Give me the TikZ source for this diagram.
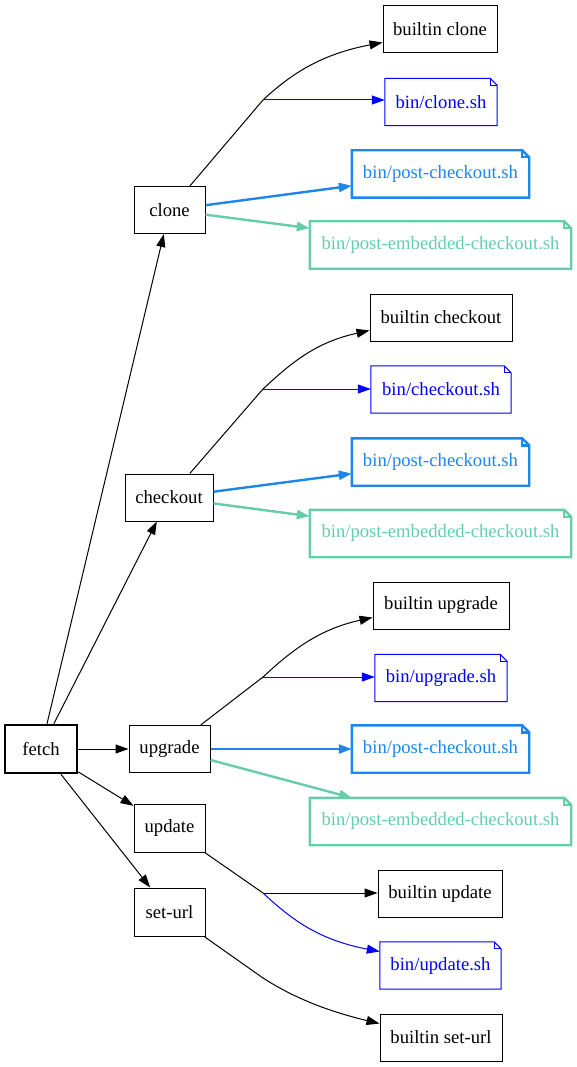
\documentclass[tikz,border=0pt]{standalone}
\usepackage{fontspec}
\setmainfont{Liberation Serif}
\usetikzlibrary{arrows.meta,calc}
\definecolor{cblue}{HTML}{0000FF}
\definecolor{cdodger}{HTML}{1C86EE}
\definecolor{caqua}{HTML}{66CDAA}
\tikzset{
  base/.style={rectangle, inner sep=0pt, font=\fontsize{18.67}{20}\selectfont},
  box/.style={base, draw, line width=1pt, minimum height=47pt},
  rootbox/.style={box, line width=2.6pt},
  notebox/.style={base, minimum height=47pt, text=#1},
  thin/.style={line width=1pt},
  thick2/.style={line width=2.4pt},
  tip/.style={-{Triangle[length=13pt,width=9pt]}},
  edge/.style={thin, tip},
  plain/.style={thin},
}
\newcommand\notefold[2]{%
  \draw[#2, line join=miter] (#1.south west) -- (#1.north west) -- ([xshift=-7pt]#1.north east)
     -- ([yshift=-7pt]#1.north east) -- (#1.south east) -- cycle;
  \draw[#2] ([xshift=-7pt]#1.north east) |- ([yshift=-7pt]#1.north east);}
\begin{document}
\begin{tikzpicture}[x=1pt,y=-1pt]
\useasboundingbox (0,0) rectangle (576,1067);
% left column
\node[rootbox, minimum width=72pt, minimum height=48pt] (fetch) at (41,749) {fetch};
\node[box, minimum width=71pt] (clone) at (169.5,210) {clone};
\node[box, minimum width=88pt] (checkout) at (169,497.5) {checkout};
\node[box, minimum width=81pt] (upgrade) at (169.5,749) {upgrade};
\node[box, minimum width=71pt, minimum height=48pt] (update) at (169.5,828) {update};
\node[box, minimum width=71pt, minimum height=48pt] (seturl) at (169.5,912) {set-url};
% junctions
\coordinate (jc) at (263,100);
\coordinate (jco) at (263,389);
\coordinate (ju) at (263,677);
\coordinate (jup) at (263,893);
\coordinate (js) at (263,978);
% right column
\node[box, minimum width=114pt] (bc) at (440,29.5) {builtin clone};
\node[notebox=cblue, minimum width=112pt] (bcs) at (441,102) {bin/clone.sh};
\node[notebox=cdodger, minimum width=177pt] (pc1) at (440.5,174) {bin/post-checkout.sh};
\node[notebox=caqua, minimum width=261pt] (pe1) at (440.5,245) {bin/post-embedded-checkout.sh};
\node[box, minimum width=142pt] (bco) at (441,317.5) {builtin checkout};
\node[notebox=cblue, minimum width=140pt] (bcos) at (441,389.5) {bin/checkout.sh};
\node[notebox=cdodger, minimum width=177pt] (pc2) at (440.5,462) {bin/post-checkout.sh};
\node[notebox=caqua, minimum width=261pt] (pe2) at (440.5,533.5) {bin/post-embedded-checkout.sh};
\node[box, minimum width=136pt] (bu) at (441,605.5) {builtin upgrade};
\node[notebox=cblue, minimum width=132pt] (bus) at (441,678) {bin/upgrade.sh};
\node[notebox=cdodger, minimum width=177pt] (pc3) at (440.5,749) {bin/post-checkout.sh};
\node[notebox=caqua, minimum width=261pt] (pe3) at (440.5,821.5) {bin/post-embedded-checkout.sh};
\node[box, minimum width=124pt] (bup) at (440,893.5) {builtin update};
\node[notebox=cblue, minimum width=121pt] (bups) at (440.5,965.5) {bin/update.sh};
\node[box, minimum width=122pt] (bsu) at (441,1037.5) {builtin set-url};
% note outlines
\notefold{bcs}{cblue, thin}
\notefold{pc1}{cdodger, thick2}
\notefold{pe1}{caqua, thick2}
\notefold{bcos}{cblue, thin}
\notefold{pc2}{cdodger, thick2}
\notefold{pe2}{caqua, thick2}
\notefold{bus}{cblue, thin}
\notefold{pc3}{cdodger, thick2}
\notefold{pe3}{caqua, thick2}
\notefold{bups}{cblue, thin}
% fetch edges
\draw[edge] (fetch) -- (clone);
\draw[edge] (fetch) -- (checkout);
\draw[edge] (fetch) -- (upgrade);
\draw[edge] (fetch) -- (update);
\draw[edge] (fetch) -- (seturl);
% clone
\draw[plain] (clone) -- (jc);
\draw[edge] (jc) .. controls +(27,-25) and +(-63,12) .. ([yshift=-13pt]bc.west);
\draw[edge, cblue] (jc) -- (jc -| bcs.west);
\draw[thick2, tip, cdodger] (clone) -- (pc1);
\draw[thick2, tip, caqua] (clone) -- (pe1);
% checkout
\draw[plain] (checkout) -- (jco);
\draw[edge] (jco) .. controls +(27,-25) and +(-55,12) .. ([yshift=-13pt]bco.west);
\draw[edge, cblue] (jco) -- (jco -| bcos.west);
\draw[thick2, tip, cdodger] (checkout) -- (pc2);
\draw[thick2, tip, caqua] (checkout) -- (pe2);
% upgrade
\draw[plain] (upgrade) -- (ju);
\draw[edge] (ju) .. controls +(27,-25) and +(-55,12) .. ([yshift=-12pt]bu.west);
\draw[edge, cblue] (ju) -- (ju -| bus.west);
\draw[thick2, tip, cdodger] (upgrade) -- (pc3);
\draw[thick2, tip, caqua] (upgrade) -- (pe3);
% update
\draw[plain] (update) -- (jup);
\draw[edge] (jup) -- (jup -| bup.west);
\draw[edge, cblue] (jup) .. controls +(27,25) and +(-63,-12) .. ([yshift=14pt]bups.west);
% set-url
\draw[plain] (seturl) -- (js);
\draw[edge] (js) .. controls +(28,18) and +(-55,-13) .. ([yshift=14pt]bsu.west);
\end{tikzpicture}
\end{document}
